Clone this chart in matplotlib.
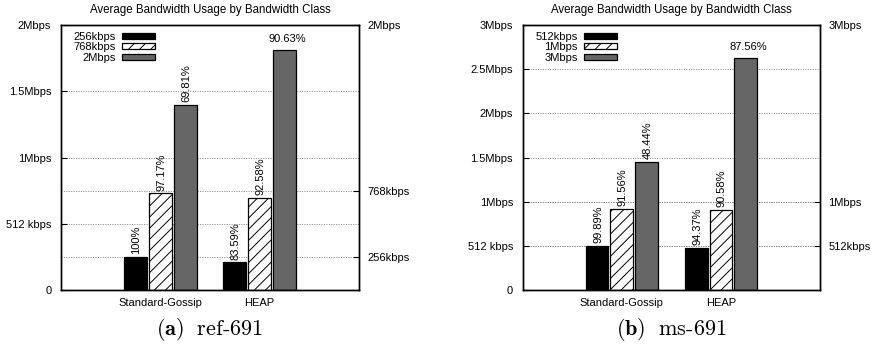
#!/usr/bin/env python3
"""average bandwidth usage per bandwidth class, two testbeds"""
import matplotlib
matplotlib.use('Agg')
import matplotlib.pyplot as plt
import numpy as np

plt.rcParams['font.family'] = ['Liberation Sans', 'DejaVu Sans']
plt.rcParams['mathtext.fontset'] = 'cm'
plt.rcParams['hatch.linewidth'] = 0.7

protocols = ['Standard-Gossip', 'HEAP']

# ref-691 : values in kbps
ref_classes = ['256kbps', '768kbps', '2Mbps']
ref_values = [[256, 214], [746, 711], [1430, 1856]]
ref_pct = [['100%', '83.59%'], ['97.17%', '92.58%'], ['69.81%', '90.63%']]
ref_ylim = 2048
ref_left_ticks = [0, 512, 1024, 1536, 2048]
ref_left_labels = ['0', '512 kbps', '1Mbps', '1.5Mbps', '2Mbps']
ref_right_ticks = [256, 768, 2048]
ref_right_labels = ['256kbps', '768kbps', '2Mbps']

# ms-691
ms_classes = ['512kbps', '1Mbps', '3Mbps']
ms_values = [[512, 485], [936, 928], [1488, 2690]]
ms_pct = [['99.89%', '94.37%'], ['91.56%', '90.58%'], ['48.44%', '87.56%']]
ms_ylim = 3072
ms_left_ticks = [0, 512, 1024, 1536, 2048, 2560, 3072]
ms_left_labels = ['0', '512 kbps', '1Mbps', '1.5Mbps', '2Mbps', '2.5Mbps', '3Mbps']
ms_right_ticks = [512, 1024, 3072]
ms_right_labels = ['512kbps', '1Mbps', '3Mbps']

styles = [dict(color='black', edgecolor='black'),
          dict(color='white', edgecolor='black', hatch='///'),
          dict(color='#666666', edgecolor='black')]


def panel(rect, classes, values, pct, ylim, lt, ll, rt, rl, caption):
    ax = fig.add_axes(rect)
    x = np.arange(len(protocols))
    w = 0.23
    for i, (cls, vals) in enumerate(zip(classes, values)):
        xs = x + (i - 1) * 0.25
        ax.bar(xs, vals, w, label=cls, linewidth=0.9, zorder=2, **styles[i])
        for xx, v, p in zip(xs, vals, pct[i]):
            if v > 0.8 * ylim:
                ax.annotate(p, (xx + 0.03, v), xytext=(0, 4), textcoords='offset points',
                            ha='center', va='bottom', fontsize=8)
            else:
                ax.annotate(p, (xx + 0.01, v), xytext=(0, 2), textcoords='offset points',
                            ha='center', va='bottom', rotation=90, fontsize=8)
    for t in lt[1:-1] + rt[:-1]:
        ax.axhline(t, color='#808080', lw=0.7, ls=(0, (1, 1.5)), zorder=1)
    ax.set_xlim(-1, 2)
    ax.set_ylim(0, ylim)
    ax.set_xticks(x)
    ax.set_xticklabels(protocols, fontsize=8)
    ax.tick_params(axis='x', length=0, pad=6)
    ax.set_yticks(lt)
    ax.set_yticklabels(ll, fontsize=8)
    ax.tick_params(axis='y', direction='in', length=4, width=0.8, pad=7)
    ax2 = ax.twinx()
    ax2.set_ylim(0, ylim)
    ax2.set_yticks(rt)
    ax2.set_yticklabels(rl, fontsize=8)
    ax2.tick_params(axis='y', direction='in', length=4, width=0.8, pad=6)
    for a in (ax, ax2):
        for s in a.spines.values():
            s.set_linewidth(1.0)
    ax.set_title('Average Bandwidth Usage by Bandwidth Class', fontsize=8.3, pad=9)
    ax.legend(loc='upper left', bbox_to_anchor=(0.02, 1.0), frameon=False, markerfirst=False,
              fontsize=8, handlelength=3.0, handleheight=0.45, labelspacing=0.06,
              handletextpad=0.55, borderpad=0.3, borderaxespad=0.3)
    cx = rect[0] + rect[2] / 2
    fig.text(cx, 0.068, caption, ha='center', va='center', fontsize=16, family='cmr10')


fig = plt.figure(figsize=(8.73, 3.54), dpi=100)
panel([61 / 873, 64 / 354, 298 / 873, 265 / 354], ref_classes, ref_values, ref_pct, ref_ylim,
      ref_left_ticks, ref_left_labels, ref_right_ticks, ref_right_labels,
      r'$\mathbf{(a)}\;$ ref-691')
panel([522.7 / 873, 64 / 354, 297.3 / 873, 265 / 354], ms_classes, ms_values, ms_pct, ms_ylim,
      ms_left_ticks, ms_left_labels, ms_right_ticks, ms_right_labels,
      r'$\mathbf{(b)}\;$ ms-691')
fig.savefig('out.png', dpi=100)
